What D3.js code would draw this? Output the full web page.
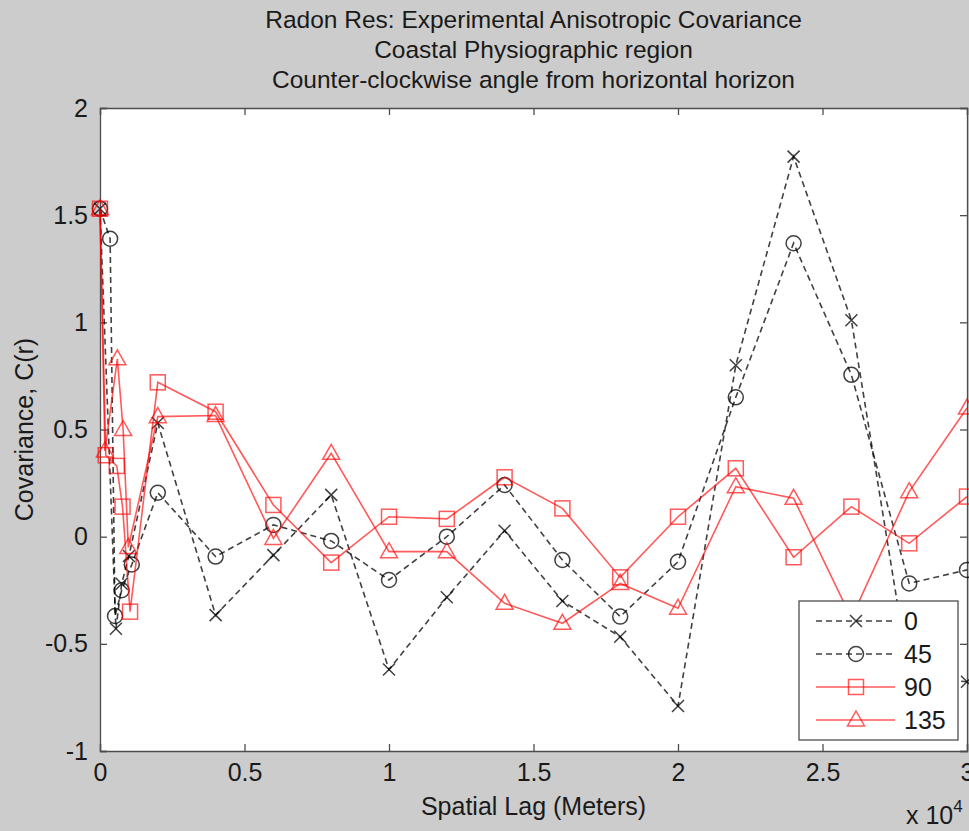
<!DOCTYPE html>
<html>
<head>
<meta charset="utf-8">
<script src="https://cdn.jsdelivr.net/npm/d3@7"></script>
<style>
  body { margin: 0; background: #cccccc; }
  svg { display: block; font-family: "Liberation Sans", Arial, sans-serif; }
</style>
</head>
<body>
<div id="chart"></div>
<script>
// lag distance (meters) and covariance for each direction
let lag0 = [0, 550, 750, 1000, 2000, 4000, 6000, 8000, 10000, 12000, 14000, 16000, 18000, 20000, 22000, 24000, 26000, 28000, 30000];
let cov0 = [1.53, -0.43, -0.22, -0.09, 0.53, -0.366, -0.086, 0.195, -0.62, -0.283, 0.028, -0.30, -0.467, -0.79, 0.80, 1.773, 1.01, -0.65, -0.677];

let lag45 = [0, 350, 520, 750, 1100, 2000, 4000, 6000, 8000, 10000, 12000, 14000, 16000, 18000, 20000, 22000, 24000, 26000, 28000, 30000];
let cov45 = [1.53, 1.39, -0.37, -0.25, -0.13, 0.205, -0.093, 0.055, -0.02, -0.202, 0.0, 0.241, -0.109, -0.373, -0.117, 0.65, 1.369, 0.755, -0.218, -0.155];

let lag90 = [0, 200, 580, 780, 1040, 2000, 4000, 6000, 8000, 10000, 12000, 14000, 16000, 18000, 20000, 22000, 24000, 26000, 28000, 30000];
let cov90 = [1.53, 0.38, 0.33, 0.14, -0.35, 0.72, 0.583, 0.148, -0.121, 0.093, 0.083, 0.277, 0.132, -0.19, 0.093, 0.319, -0.096, 0.14, -0.031, 0.187];

let lag135 = [0, 170, 600, 800, 980, 2000, 4000, 6000, 8000, 10000, 12000, 14000, 16000, 18000, 20000, 22000, 24000, 26000, 28000, 30000];
let cov135 = [1.53, 0.40, 0.83, 0.50, -0.05, 0.56, 0.565, -0.008, 0.389, -0.07, -0.07, -0.311, -0.404, -0.218, -0.334, 0.233, 0.179, -0.38, 0.21, 0.60];

let xTicks = [0, 5000, 10000, 15000, 20000, 25000, 30000];
let yTicks = [-1, -0.5, 0, 0.5, 1, 1.5, 2];

let titleLines = ["Radon Res: Experimental Anisotropic Covariance", "Coastal Physiographic region", "Counter-clockwise angle from horizontal horizon"];

let series = [
  { name: "0", lag: lag0, cov: cov0, color: "#000", dash: "6,4", marker: "x" },
  { name: "45", lag: lag45, cov: cov45, color: "#000", dash: "6,4", marker: "o" },
  { name: "90", lag: lag90, cov: cov90, color: "#ff0000", dash: null, marker: "s" },
  { name: "135", lag: lag135, cov: cov135, color: "#ff0000", dash: null, marker: "^" }
];

let width = 969, height = 831;
let margin = { top: 108, right: 2, bottom: 80, left: 100 };
let w = width - margin.left - margin.right;
let h = height - margin.top - margin.bottom;

let svg = d3.select("#chart").append("svg")
  .attr("width", width)
  .attr("height", height);

let x = d3.scaleLinear().domain([0, 30000]).range([0, w]);
let y = d3.scaleLinear().domain([-1, 2]).range([h, 0]);

let g = svg.append("g")
  .attr("transform", "translate(" + margin.left + "," + margin.top + ")");

g.append("rect")
  .attr("width", w)
  .attr("height", h)
  .attr("fill", "#fff");

// title
svg.append("g").selectAll("text")
  .data(titleLines)
  .enter().append("text")
  .attr("x", margin.left + w / 2)
  .attr("y", (d, i) => 28 + i * 30)
  .attr("text-anchor", "middle")
  .style("font-size", "24.5px")
  .attr("fill", "#1a1a1a")
  .text(d => d);

// axes, ticks inside on all four sides
let axisColor = "#4d4d4d";
let tickLen = 7;

let xAx = g.append("g").attr("transform", "translate(0," + h + ")")
  .call(d3.axisBottom(x).tickValues(xTicks).tickSize(-tickLen).tickPadding(12)
    .tickFormat(d => String(d / 10000)));
let xAxTop = g.append("g")
  .call(d3.axisTop(x).tickValues(xTicks).tickSize(-tickLen).tickFormat(""));
let yAx = g.append("g")
  .call(d3.axisLeft(y).tickValues(yTicks).tickSize(-tickLen).tickPadding(12)
    .tickFormat(d => String(d)));
let yAxRight = g.append("g").attr("transform", "translate(" + w + ",0)")
  .call(d3.axisRight(y).tickValues(yTicks).tickSize(-tickLen).tickFormat(""));

[xAx, xAxTop, yAx, yAxRight].forEach(function (a) {
  a.select(".domain").attr("stroke", axisColor).attr("stroke-width", 1.3);
  a.selectAll(".tick line").attr("stroke", axisColor).attr("stroke-width", 1.3);
  a.selectAll("text").style("font-size", "25px").attr("fill", "#1a1a1a").style("font-family", "Liberation Sans, Arial, sans-serif");
});
xAx.selectAll("text").attr("dy", "0.72em");

// lines and markers
let line = d3.line()
  .x(d => x(d[0]))
  .y(d => y(d[1]));

function drawMarker(sel, type, color) {
  if (type == "x") {
    sel.append("path").attr("d", "M-6,-6L6,6M-6,6L6,-6");
  } else if (type == "o") {
    sel.append("circle").attr("r", 7.5);
  } else if (type == "s") {
    sel.append("rect").attr("x", -7.5).attr("y", -7.5).attr("width", 15).attr("height", 15);
  } else {
    sel.append("path").attr("d", "M0,-9L8.5,6L-8.5,6Z");
  }
  sel.attr("fill", "none").attr("stroke", color).attr("stroke-width", 1.5);
}

series.forEach(function (s) {
  let pts = s.lag.map((l, i) => [l, s.cov[i]]);
  let op = s.color == "#000" ? 0.75 : 0.65;
  g.append("path")
    .datum(pts)
    .attr("fill", "none")
    .attr("stroke", s.color)
    .attr("stroke-opacity", op)
    .attr("stroke-width", 1.6)
    .attr("stroke-dasharray", s.dash)
    .attr("d", line);
  g.append("g").selectAll("g")
    .data(pts)
    .enter().append("g")
    .attr("transform", d => "translate(" + x(d[0]) + "," + y(d[1]) + ")")
    .attr("opacity", op)
    .each(function () { drawMarker(d3.select(this), s.marker, s.color); });
});

// axis labels
svg.append("text")
  .attr("x", margin.left + w / 2)
  .attr("y", 815)
  .attr("text-anchor", "middle")
  .style("font-size", "25px")
  .attr("fill", "#1a1a1a")
  .text("Spatial Lag (Meters)");

svg.append("text")
  .attr("transform", "translate(33," + (margin.top + h / 2) + ") rotate(-90)")
  .attr("text-anchor", "middle")
  .style("font-size", "25px")
  .attr("fill", "#1a1a1a")
  .text("Covariance, C(r)");

let exp = svg.append("text")
  .attr("x", 906)
  .attr("y", 824)
  .style("font-size", "25px")
  .attr("fill", "#1a1a1a");
exp.append("tspan").text("x 10");
exp.append("tspan").attr("dy", -12).style("font-size", "17px").text("4");

// legend
let legend = g.append("g").attr("transform", "translate(" + (799 - margin.left) + "," + (601 - margin.top) + ")");
legend.append("rect")
  .attr("width", 159)
  .attr("height", 139)
  .attr("fill", "#fff")
  .attr("stroke", axisColor)
  .attr("stroke-width", 1.3);

let items = legend.selectAll(".item")
  .data(series)
  .enter().append("g")
  .attr("class", "item")
  .attr("transform", (d, i) => "translate(0," + (20 + i * 33) + ")");

items.append("line")
  .attr("x1", 17).attr("x2", 96)
  .attr("stroke", d => d.color)
  .attr("stroke-opacity", d => d.color == "#000" ? 0.75 : 0.65)
  .attr("stroke-width", 1.6)
  .attr("stroke-dasharray", d => d.dash);

items.append("g")
  .attr("transform", "translate(57,0)")
  .attr("opacity", d => d.color == "#000" ? 0.75 : 0.65)
  .each(function (d) { drawMarker(d3.select(this), d.marker, d.color); });

items.append("text")
  .attr("x", 105)
  .attr("dy", "0.36em")
  .style("font-size", "25px")
  .attr("fill", "#1a1a1a")
  .text(d => d.name);
</script>
</body>
</html>
